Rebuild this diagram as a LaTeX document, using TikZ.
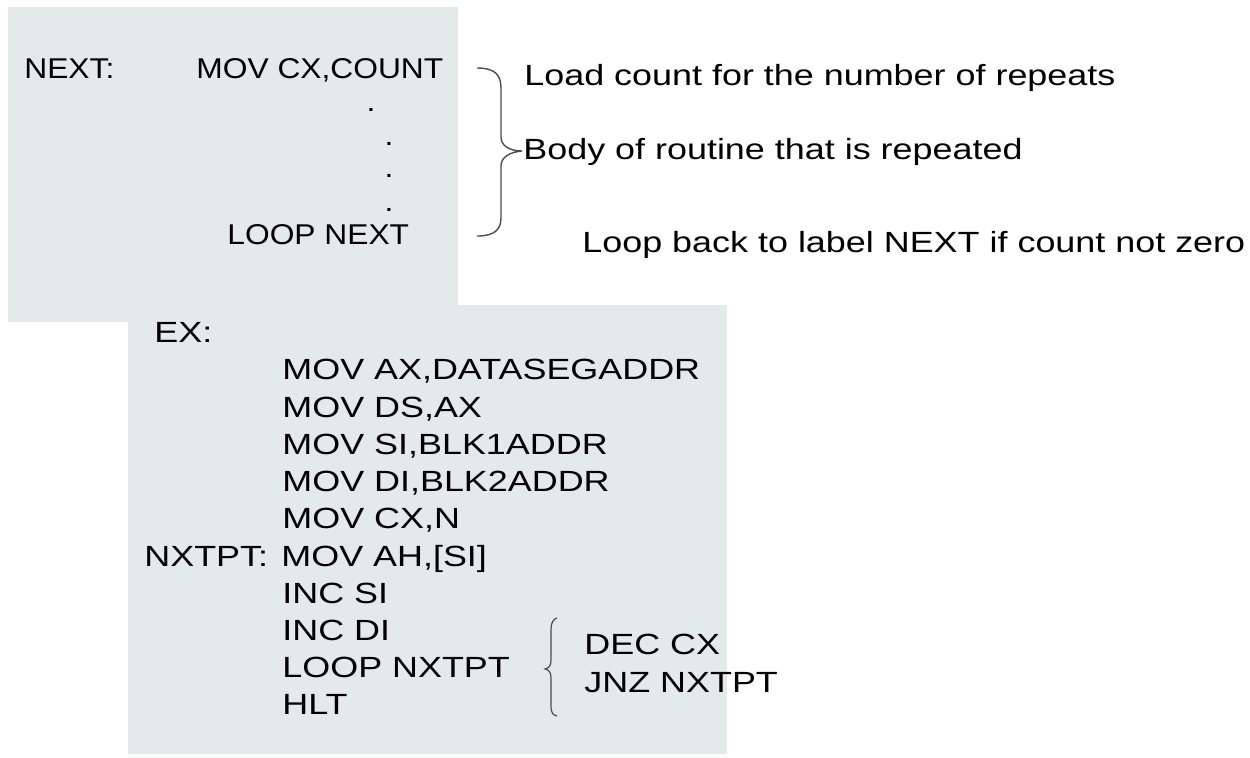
\documentclass[tikz,border=0pt]{standalone}
\usepackage{fontspec}
\setmainfont{Liberation Sans}[FakeStretch=1.23]
\newfontfamily\topfont{Liberation Sans}[FakeStretch=1.11]
\definecolor{boxgray}{RGB}{228,234,234}
\tikzset{
  codebox/.style={fill=boxgray,draw=none},
  txt/.style={inner sep=0pt,anchor=base west,font=\fontsize{14.6pt}{17pt}\selectfont},
  toptxt/.style={txt,font=\topfont\fontsize{14.3pt}{17pt}\selectfont},
  bracket/.style={draw=black!70,line width=0.7pt}
}
\begin{document}
\begin{tikzpicture}[x=0.5pt,y=-0.5pt]
\useasboundingbox (0,0) rectangle (1250,757);
% shaded boxes
\fill[codebox] (8,7) rectangle (458,322);
\fill[codebox] (128,305) rectangle (727,754);

% LOOP with count
\node[toptxt] (next) at (24,78) {NEXT:};
\node[toptxt] (movcount) at (196,78) {MOV CX,COUNT};
\node[toptxt,anchor=base] (dota) at (371,111) {.};
\node[toptxt,anchor=base] (dotb) at (389,145) {.};
\node[toptxt,anchor=base] (dotc) at (389,177) {.};
\node[toptxt,anchor=base] (dotd) at (389,211) {.};
\node[toptxt] (loopnext) at (227,244) {LOOP NEXT};

\coordinate (bracetop) at (477,68);
\coordinate (bracetip) at (522,151);
\coordinate (bracebot) at (477,236);
\draw[bracket] (bracetop) .. controls (494,68) and (501,74) .. (501,88)
  -- (501,137) .. controls (501,146) and (510,151) .. (bracetip)
  .. controls (510,152) and (501,157) .. (501,166)
  -- (501,218) .. controls (501,230) and (494,236) .. (bracebot);
\node[txt] (loadnote) at (524,85) {Load count for the number of repeats};
\node[txt] (bodynote) at (523,159) {Body of routine that is repeated};
\node[txt] (loopnote) at (582,252) {Loop back to label NEXT if count not zero};

% block move example
\node[txt] (ex) at (154,342) {EX:};
\node[txt] (movax) at (282,379) {MOV AX,DATASEGADDR};
\node[txt] (movds) at (282,417) {MOV DS,AX};
\node[txt] (movsi) at (282,454) {MOV SI,BLK1ADDR};
\node[txt] (movdi) at (282,491) {MOV DI,BLK2ADDR};
\node[txt] (movcx) at (282,528) {MOV CX,N};
\node[txt] (nxtpt) at (144,566) {NXTPT:};
\node[txt] (movah) at (281,566) {MOV AH,[SI]};
\node[txt] (incsi) at (282,603) {INC SI};
\node[txt] (incdi) at (282,640) {INC DI};
\node[txt] (loopnxtpt) at (282,677) {LOOP NXTPT};
\node[txt] (hlt) at (282,714) {HLT};

\coordinate (curltop) at (557,618);
\coordinate (curltip) at (545,669);
\coordinate (curlbot) at (557,716);
\draw[bracket,line width=0.6pt] (curltop) .. controls (553,619) and (551,623) .. (551,630)
  -- (551,660) .. controls (551,666) and (549,668) .. (curltip)
  .. controls (549,670) and (551,672) .. (551,678)
  -- (551,706) .. controls (551,713) and (553,715) .. (curlbot);
\node[txt] (deccx) at (584,654) {DEC CX};
\node[txt] (jnz) at (584,692) {JNZ NXTPT};
\end{tikzpicture}
\end{document}
